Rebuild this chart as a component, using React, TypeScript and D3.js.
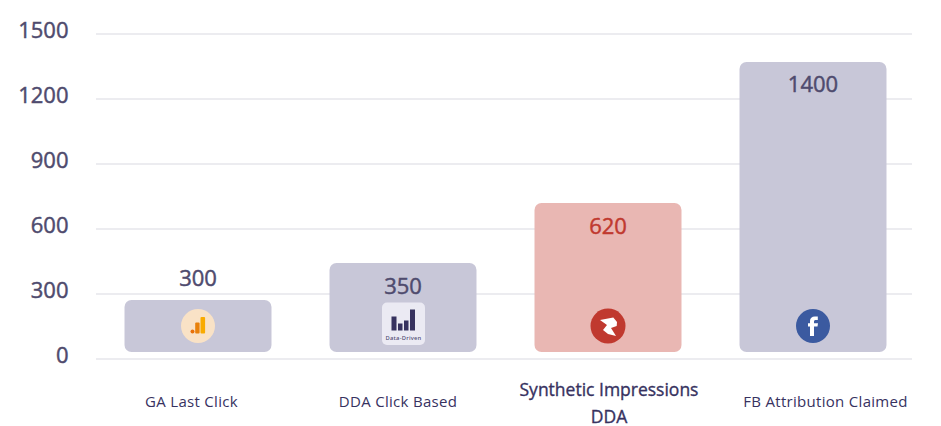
import React from "react";
import * as d3 from "d3";

const categories = ["GA Last Click", "DDA Click Based", "Synthetic Impressions DDA", "FB Attribution Claimed"];
const valueLabels = [300, 350, 620, 1400];
// The picture's bars do not follow their printed values: tops as read against the axis.
const barTops = [272, 443, 720, 1371];
const barBase = 32;
const yTicks = [0, 300, 600, 900, 1200, 1500];

const W = 941, H = 426;
const INK = "#4f4b6e";
const NAVY = "#37325f";
const RED = "#c0392f";
const FONT = "'Open Sans', sans-serif";

export default function App() {
  const y = d3.scaleLinear().domain([0, 1500]).range([359, 34]);
  const x = d3.scaleBand<string>().domain(categories).range([95.5, 915.5]).paddingInner(0.283).paddingOuter(0.1415);
  const bw = x.bandwidth();
  const iconY = 326;

  const catX = [191.5, 398, 609, 825.5];

  return (
    <svg width={W} height={H} viewBox={`0 0 ${W} ${H}`} style={{ position: "absolute", left: 0, top: 0, fontFamily: FONT }}>
      <rect width={W} height={H} fill="#fff" />
      {yTicks.map((t) => (
        <g key={t}>
          <line x1={96} x2={912} y1={y(t)} y2={y(t)} stroke="#e6e6eb" strokeWidth={1.6} />
          <text x={68.5} y={y(t) - 3.6} dy="0.36em" textAnchor="end" fontSize={22} fontWeight={500} stroke={INK} strokeWidth={0.45} fill={INK}>{t}</text>
        </g>
      ))}
      {categories.map((c, i) => {
        const left = x(c)!;
        const cx = left + bw / 2;
        const isRed = i === 2;
        const top = y(barTops[i]);
        const labelY = i === 0 ? top - 22 : top + 22.6;
        const color = isRed ? RED : INK;
        return (
          <g key={c}>
            <rect x={left} y={top} width={bw} height={y(barBase) - top} rx={7} fill={isRed ? "#e9b7b3" : "#c8c7d8"} />
            <text x={cx} y={labelY} dy="0.36em" textAnchor="middle" fontSize={22} fontWeight={500} stroke={color} strokeWidth={0.45} fill={color}>{valueLabels[i]}</text>
          </g>
        );
      })}
      {/* GA icon */}
      <g transform={`translate(${x(categories[0])! + bw / 2},${iconY})`}>
        <circle r={17} fill="#f9e2c6" />
        <circle cx={-5.5} cy={5.5} r={2} fill="#e8710a" />
        <rect x={-2.8} y={-3.5} width={4.4} height={11} rx={1} fill="#e8810c" />
        <rect x={2.5} y={-9} width={4.6} height={16.5} rx={1} fill="#f9ab00" />
      </g>
      {/* Data-driven icon */}
      <g transform={`translate(${x(categories[1])! + bw / 2 + 0.5},${iconY - 2.5})`}>
        <rect x={-21.5} y={-21} width={43} height={42.5} rx={5} fill="#ebeaf3" />
        <rect x={-12} y={-7} width={5} height={14} fill={NAVY} />
        <rect x={-5.5} y={0} width={4.5} height={7} fill={NAVY} />
        <rect x={0.5} y={-3} width={4.5} height={10} fill={NAVY} />
        <rect x={6.5} y={-14} width={5} height={21} fill={NAVY} />
        <text x={0} y={16.5} textAnchor="middle" fontSize={5.8} fontWeight={600} letterSpacing={0.2} fill={NAVY} fillOpacity={0.85}>Data-Driven</text>
      </g>
      {/* Red brand icon */}
      <g transform={`translate(${x(categories[2])! + bw / 2},${iconY})`}>
        <circle r={17.5} fill={RED} />
        <path d="M-8,-6 L5.3,-8.5 L9,-4 L8.7,0 L3,2 L8,10 L0,8 L-5,4 L-1,-1 Z" fill="#fff" />
      </g>
      {/* Facebook icon */}
      <g transform={`translate(${x(categories[3])! + bw / 2},${iconY})`}>
        <circle r={17} fill="#3b5aa0" />
        <path d="M-3,10 L-3,0.5 L-5,0.5 L-5,-2.8 L-3,-2.8 L-3,-5 C-3,-8 -1,-9.5 1.8,-9.5 L4.8,-9.5 L4.8,-6 L2.8,-6 C1.6,-6 1,-5.5 1,-4.5 L1,-2.8 L5,-2.8 L4.5,0.5 L1,0.5 L1,10 Z" fill="#fff" />
      </g>
      {/* Category labels */}
      <text x={catX[0]} y={402} dy="0.36em" textAnchor="middle" fontSize={15} letterSpacing={0.3} fill={NAVY}>{categories[0]}</text>
      <text x={catX[1]} y={402} dy="0.36em" textAnchor="middle" fontSize={15} letterSpacing={0.3} fill={NAVY}>{categories[1]}</text>
      <text x={catX[2]} y={390} dy="0.36em" textAnchor="middle" fontSize={17.5} fontWeight={500} stroke={NAVY} strokeWidth={0.35} fill={NAVY}>Synthetic Impressions</text>
      <text x={catX[2]} y={416.5} dy="0.36em" textAnchor="middle" fontSize={17.5} fontWeight={500} stroke={NAVY} strokeWidth={0.35} fill={NAVY}>DDA</text>
      <text x={catX[3]} y={402} dy="0.36em" textAnchor="middle" fontSize={15} letterSpacing={0.3} fill={NAVY}>{categories[3]}</text>
    </svg>
  );
}
